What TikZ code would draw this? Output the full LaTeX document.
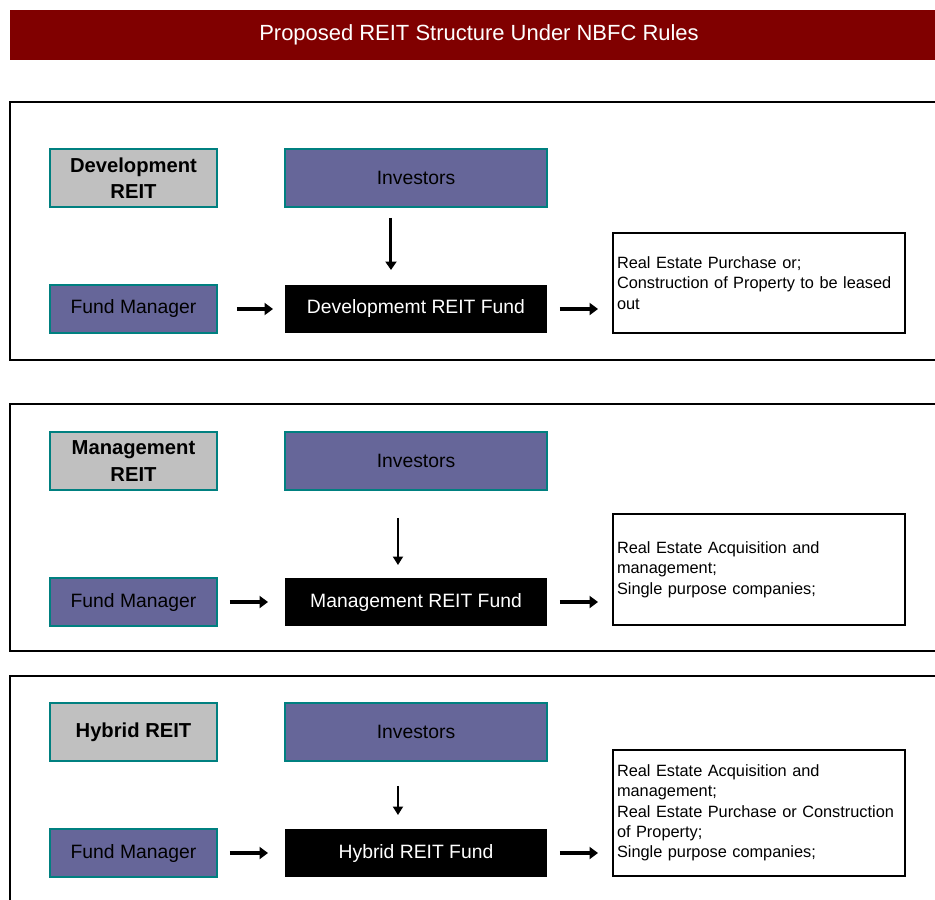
\documentclass[tikz,border=0pt]{standalone}
\usepackage{fontspec}
\setmainfont{Liberation Sans}
\usetikzlibrary{arrows.meta}
\definecolor{banner}{HTML}{800000}
\definecolor{purp}{HTML}{666699}
\definecolor{tealb}{HTML}{008080}
\definecolor{greyf}{HTML}{C0C0C0}
\begin{document}
\begin{tikzpicture}[x=0.02cm,y=-0.02cm,
  every node/.style={inner sep=0pt,outer sep=0pt},
  panel/.style={draw=black,line width=1.6pt},
  typebox/.style={draw=tealb,line width=1.1pt,fill=greyf,anchor=north west,
    minimum width=3.34cm,minimum height=1.16cm,align=center,
    font=\bfseries\fontsize{11.5}{15}\selectfont},
  invbox/.style={draw=tealb,line width=1.1pt,fill=purp,anchor=north west,
    minimum width=5.24cm,minimum height=1.16cm,font=\fontsize{11}{13}\selectfont},
  mgrbox/.style={draw=tealb,line width=1.1pt,fill=purp,anchor=north west,
    minimum width=3.34cm,minimum height=0.96cm,font=\fontsize{11}{13}\selectfont},
  fundbox/.style={fill=black,text=white,anchor=north west,
    minimum width=5.24cm,minimum height=0.96cm,font=\fontsize{11}{13}\selectfont},
  outbox/.style={draw=black,line width=1.1pt,anchor=north west,
    minimum width=5.84cm,text width=5.68cm,inner xsep=0.08cm,align=left,
    font=\fontsize{9.3}{11.6}\selectfont},
  harr/.style={line width=2pt,-{Triangle[length=0.17cm,width=0.24cm]}},
  varrA/.style={line width=1.7pt,-{Triangle[length=0.17cm,width=0.22cm]}},
  varrB/.style={line width=1.1pt,-{Triangle[length=0.17cm,width=0.2cm]}}
]
\useasboundingbox (0,0) rectangle (935,899);

% title banner
\node[fill=banner,minimum width=19cm,minimum height=1cm,anchor=north west,
  text=white,font=\fontsize{12.5}{14}\selectfont] (title) at (10,10) {};
\node[text=white,font=\fontsize{12.5}{14}\selectfont] (titletext) at (479,35) {Proposed REIT Structure Under NBFC Rules};

% panels
\draw[panel] (10,102) rectangle (960,360);
\draw[panel] (10,404) rectangle (960,651);
\draw[panel] (10,676) rectangle (960,920);

% ---- panel 1
\node[typebox] (t1) at (50,149) {Development\\REIT};
\node[invbox] (i1) at (285,149) {Investors};
\node[mgrbox] (m1) at (50,285) {Fund Manager};
\node[fundbox] (f1) at (285,285) {Developmemt REIT Fund};
\node[outbox,minimum height=2.0cm] (o1) at (613,233) {Real Estate Purchase or;\\Construction of Property to be leased\\out};
\draw[varrA,shorten <=0.22cm,shorten >=0.3cm] ([xshift=-0.5cm]i1.south) -- ([xshift=-0.5cm]f1.north);
\draw[harr,shorten <=0.4cm,shorten >=0.24cm] (m1.east) -- (f1.west);
\draw[harr,shorten <=0.26cm,shorten >=0.3cm] (f1.east) -- (f1.east -| o1.west);

% ---- panel 2
\node[typebox] (t2) at (50,432) {Management\\REIT};
\node[invbox] (i2) at (285,432) {Investors};
\node[mgrbox] (m2) at (50,578) {Fund Manager};
\node[fundbox] (f2) at (285,578) {Management REIT Fund};
\node[outbox,minimum height=2.22cm] (o2) at (613,514) {Real Estate Acquisition and\\management;\\Single purpose companies;};
\draw[varrB,shorten <=0.56cm,shorten >=0.26cm] ([xshift=-0.36cm]i2.south) -- ([xshift=-0.36cm]f2.north);
\draw[harr,shorten <=0.26cm,shorten >=0.34cm] (m2.east) -- (f2.west);
\draw[harr,shorten <=0.26cm,shorten >=0.3cm] (f2.east) -- (f2.east -| o2.west);

% ---- panel 3
\node[typebox] (t3) at (50,703) {Hybrid REIT};
\node[invbox] (i3) at (285,703) {Investors};
\node[mgrbox] (m3) at (50,829) {Fund Manager};
\node[fundbox] (f3) at (285,829) {Hybrid REIT Fund};
\node[outbox,minimum height=2.52cm] (o3) at (613,750) {Real Estate Acquisition and\\management;\\Real Estate Purchase or Construction\\of Property;\\Single purpose companies;};
\draw[varrB,shorten <=0.5cm,shorten >=0.28cm] ([xshift=-0.36cm]i3.south) -- ([xshift=-0.36cm]f3.north);
\draw[harr,shorten <=0.26cm,shorten >=0.34cm] (m3.east) -- (f3.west);
\draw[harr,shorten <=0.26cm,shorten >=0.3cm] (f3.east) -- (f3.east -| o3.west);
\end{tikzpicture}
\end{document}
